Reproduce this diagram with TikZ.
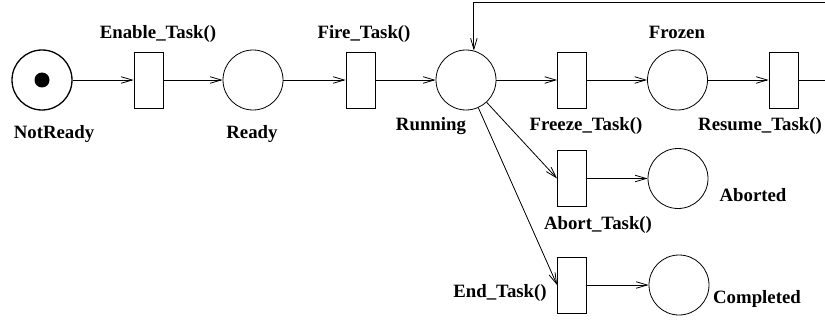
\documentclass[tikz,border=0pt]{standalone}
\usepackage{fontspec}
\setmainfont{Liberation Serif}
\usetikzlibrary{arrows.meta}
\begin{document}
\begin{tikzpicture}[x=1pt,y=1pt,
  place/.style={circle,draw,line width=0.8pt,minimum size=60pt,inner sep=0pt},
  trans/.style={rectangle,draw,line width=0.8pt,minimum width=29pt,minimum height=56pt,inner sep=0pt},
  lbl/.style={font=\bfseries\fontsize{18.8}{21}\selectfont,anchor=base,inner sep=0pt},
  arc/.style={line width=0.8pt,-{Straight Barb[length=11pt,width=6.5pt,line width=0.8pt]}}]
\clip (0,0) rectangle (825,322);
% places and transitions
\node[place,line width=1.3pt] (notready) at (42,242) {};
\fill (notready.center) circle (7.5pt);
\node[trans] (enable) at (148.5,242) {};
\node[place] (ready) at (253,242) {};
\node[trans] (fire) at (360.5,242) {};
\node[place] (run) at (466,242) {};
\node[trans] (freeze) at (572,242) {};
\node[place] (frozen) at (677.5,242) {};
\node[trans] (resume) at (783.5,242) {};
\node[trans] (abort) at (572,143.5) {};
\node[place] (aborted) at (678,143.5) {};
\node[trans] (endt) at (572,37) {};
\node[place] (completed) at (679,37) {};
% labels
\node[lbl] (lenable) at (158,283) {Enable\_Task()};
\node[lbl] (lfire) at (364,283) {Fire\_Task()};
\node[lbl] (lfrozen) at (677,283) {Frozen};
\node[lbl] (lnotready) at (54,184) {NotReady};
\node[lbl] (lready) at (252,184) {Ready};
\node[lbl] (lrun) at (431,192) {Running};
\node[lbl] (lfreeze) at (586,192) {Freeze\_Task()};
\node[lbl] (lresume) at (760,192) {Resume\_Task()};
\node[lbl] (laborted) at (753,121) {Aborted};
\node[lbl] (labort) at (598,93) {Abort\_Task()};
\node[lbl] (lend) at (500,25) {End\_Task()};
\node[lbl] (lcompleted) at (757,19) {Completed};
% arcs
\draw[arc] (notready) -- (enable);
\draw[arc] (enable) -- (ready);
\draw[arc] (ready) -- (fire);
\draw[arc] (fire) -- (run);
\draw[arc] (run) -- (freeze);
\draw[arc] (freeze) -- (frozen);
\draw[arc] (frozen) -- (resume);
\draw[arc] (run) -- (abort.west);
\draw[arc] (run) -- (endt.west);
\draw[arc] (abort) -- (aborted);
\draw[arc] (endt) -- (completed);
% loop back from Resume_Task() to Running
\coordinate (loopa) at (835,242);
\coordinate (loopb) at (835,319.3);
\draw[arc] (resume.east) -- (loopa) -- (loopb) -| (run.75);
\end{tikzpicture}
\end{document}
